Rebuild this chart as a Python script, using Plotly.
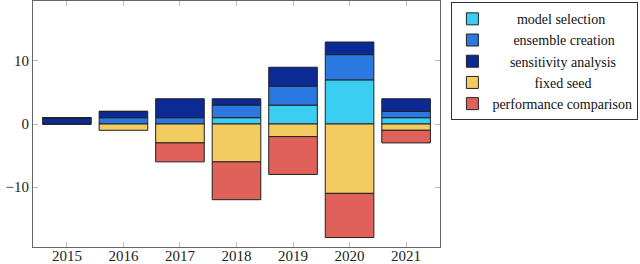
import plotly.graph_objects as go

years = ["2015", "2016", "2017", "2018", "2019", "2020", "2021"]
model_selection = [0, 0, 0, 1, 3, 7, 1]
ensemble_creation = [0, 1, 1, 2, 3, 4, 1]
sensitivity_analysis = [1, 1, 3, 1, 3, 2, 2]
fixed_seed = [0, -1, -3, -6, -2, -11, -1]
performance_comparison = [0, 0, -3, -6, -6, -7, -2]

# (name, values, colour, leading pad to centre legend text)
series = [
    ("model selection", model_selection, "#3ccdf3", 7),
    ("ensemble creation", ensemble_creation, "#2a78e0", 6),
    ("sensitivity analysis", sensitivity_analysis, "#0c2a94", 5),
    ("fixed seed", fixed_seed, "#f2cc60", 12),
    ("performance comparison", performance_comparison, "#e0605a", 0),
]

SERIF = "Liberation Serif, Times New Roman, serif"

fig = go.Figure()
for name, vals, color, pad in series:
    fig.add_trace(go.Bar(
        x=years, y=vals, name="\u00a0" * pad + name,
        marker=dict(color=color, line=dict(color="#222222", width=1)),
        width=0.86,
    ))

axis_common = dict(
    showline=True, linecolor="#666666", linewidth=1, mirror="ticks",
    ticks="inside", ticklen=5, tickcolor="#bbbbbb", showgrid=False,
    zeroline=False, automargin=False,
    tickfont=dict(family=SERIF, size=15, color="#222222"),
)

xaxis = dict(**axis_common, type="category", range=[-0.6, 6.6])
try:
    go.layout.XAxis(ticklabelstandoff=-5)
    xaxis["ticklabelstandoff"] = -5
except Exception:
    pass

fig.update_layout(
    barmode="relative",
    width=640, height=264,
    margin=dict(l=33, r=200, t=1, b=17),
    plot_bgcolor="white", paper_bgcolor="white",
    font=dict(family=SERIF, size=14, color="#111111"),
    xaxis=xaxis,
    yaxis=dict(**axis_common, range=[-19.5, 19.5], tickvals=[-10, 0, 10],
               ticktext=["\u221210", "0", "10"]),
    legend=dict(
        x=1.028, y=0.995, xanchor="left", yanchor="top",
        bordercolor="#333333", borderwidth=1, bgcolor="white",
        font=dict(family=SERIF, size=14, color="#111111"),
        tracegroupgap=0, itemwidth=30,
        traceorder="normal",
    ),
    showlegend=True,
)

fig.write_html("out.html", config={"displayModeBar": False},
               post_script="document.body.style.margin='0';")
